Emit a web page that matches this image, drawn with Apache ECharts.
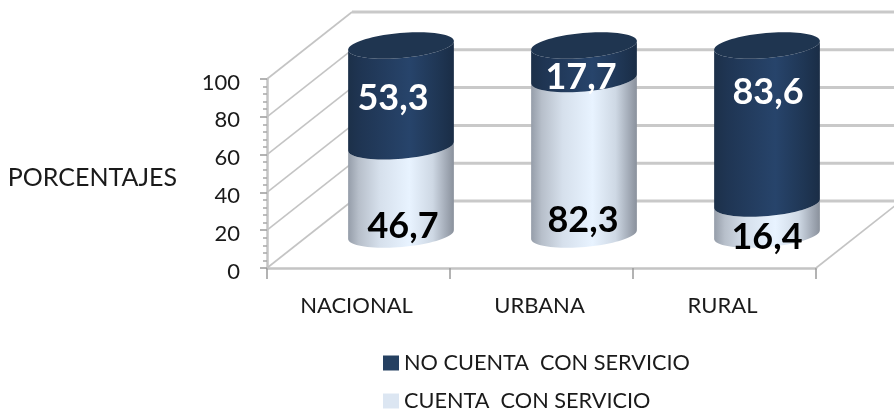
<!DOCTYPE html>
<html><head><meta charset="utf-8">
<style>html,body{margin:0;padding:0;background:#fff}#c{width:894px;height:412px}</style>
<script src="https://cdn.jsdelivr.net/npm/echarts@6/dist/echarts.min.js"></script>
</head><body><div id="c"></div>
<script>
const categories = ['NACIONAL', 'URBANA', 'RURAL'];
const cuenta = [46.7, 82.3, 16.4];
const noCuenta = [53.3, 17.7, 83.6];
const yTicks = [0, 20, 40, 60, 80, 100];
const nameCuenta = 'CUENTA  CON SERVICIO';
const nameNoCuenta = 'NO CUENTA  CON SERVICIO';

const FONT = 'Lato, Carlito, sans-serif';
const DX = 85, DY = 67;           // 3D depth of the walls
const RY = 12.5, TILT = 5 * Math.PI / 180;
const RATIO = 0.29;

// Hand placed label nudges of the source chart
const nudgeLight = [[2, 36], [-1, 64], [0, 18]];
const nudgeDark = [[-8, 3], [-3, 15], [1, -32]];

function arc(cx, cy, rx, from, to, n) {
  const pts = [];
  for (let i = 0; i <= n; i++) {
    const t = from + (to - from) * i / n;
    const a = rx * Math.cos(t), b = RY * Math.sin(t);
    pts.push([cx + a * Math.cos(TILT) + b * Math.sin(TILT), cy - a * Math.sin(TILT) + b * Math.cos(TILT)]);
  }
  return pts;
}

function cylinder(stops, capColor, textColor, nudges) {
  return function (params, api) {
    const i = api.value(0), lo = api.value(1), hi = api.value(2), label = api.value(3);
    const band = api.size([1, 0])[0];
    const rx = band * RATIO;
    const pLo = api.coord([i, lo]), pHi = api.coord([i, hi]);
    const cx = pLo[0] + DX / 2;
    const yLo = pLo[1] - DY / 2, yHi = pHi[1] - DY / 2;
    const front = arc(cx, yLo, rx, Math.PI, 0, 40).concat(arc(cx, yHi, rx, 0, Math.PI, 40));
    const children = [{
      type: 'polygon', shape: { points: front },
      style: { fill: { type: 'linear', x: 0, y: 0, x2: 1, y2: 0, colorStops: stops } }
    }];
    if (capColor) {
      children.push({
        type: 'polygon', shape: { points: arc(cx, yHi, rx, 0, 2 * Math.PI, 80) },
        style: { fill: capColor }
      });
    }
    children.push({
      type: 'text', z2: 100,
      style: {
        text: label.toFixed(1).replace('.', ','),
        x: cx + nudges[i][0], y: (yLo + yHi) / 2 + nudges[i][1],
        align: 'center', verticalAlign: 'middle',
        fontFamily: FONT, fontWeight: 'bold', fontSize: 36, fill: textColor
      }
    });
    return { type: 'group', children };
  };
}

function wall(params, api) {
  const v = api.value(0);
  const p = api.coord([0, v]);
  const band = api.size([1, 0])[0];
  const x0 = p[0] - band / 2, y = p[1];
  const lineStyle = { stroke: '#c4c4c4', lineWidth: 1.6 };
  const backY = y - DY, xBack = x0 + DX;
  const children = [
    { type: 'line', shape: { x1: x0, y1: y, x2: xBack, y2: backY }, style: lineStyle },
    { type: 'line', shape: { x1: xBack, y1: backY, x2: xBack + band * 3, y2: backY }, style: { stroke: '#c9c9c9', lineWidth: 3 } }
  ];
  if (v === 0) {
    children.push({ type: 'line', shape: { x1: x0 + band * 3, y1: y, x2: xBack + band * 3, y2: backY }, style: lineStyle });
  }
  return { type: 'group', children };
}

const darkStops = [
  { offset: 0, color: '#1c3049' }, { offset: 0.12, color: '#1f3553' },
  { offset: 0.58, color: '#27446b' }, { offset: 0.85, color: '#1f3654' }, { offset: 1, color: '#1a2d46' }
];
const lightStops = [
  { offset: 0, color: '#959da9' }, { offset: 0.1, color: '#b7bfca' }, { offset: 0.3, color: '#d6e0ec' },
  { offset: 0.58, color: '#e8f3ff' }, { offset: 0.8, color: '#ced8e4' }, { offset: 0.93, color: '#a1a9b5' }, { offset: 1, color: '#8a919c' }
];

const lightRows = categories.map((c, i) => [i, 0, cuenta[i], cuenta[i]]);
const darkRows = categories.map((c, i) => [i, cuenta[i], cuenta[i] + noCuenta[i], noCuenta[i]]);

const chart = echarts.init(document.getElementById('c'), null, { renderer: 'canvas' });
chart.setOption({
  animation: false,
  backgroundColor: '#fff',
  textStyle: { fontFamily: FONT },
  grid: { left: 267, right: 78, top: 79, height: 189, containLabel: false, outerBoundsMode: 'none' },
  xAxis: {
    type: 'category', data: categories,
    axisLine: { lineStyle: { color: '#c4c4c4', width: 2.5 } },
    axisTick: { show: true, length: 11, lineStyle: { color: '#9a9a9a', width: 1.5 } },
    axisLabel: { color: '#1a1a1a', fontSize: 22, fontFamily: FONT, margin: 27, padding: [0, 4, 0, 0] },
    splitLine: { show: false }
  },
  yAxis: {
    type: 'value', min: 0, max: 100, interval: 20,
    name: 'PORCENTAJES', nameLocation: 'middle', nameRotate: 0, nameGap: 90,
    nameTextStyle: { color: '#1a1a1a', fontSize: 25, fontFamily: FONT, verticalAlign: 'top', lineHeight: 8 },
    axisLine: { show: true, lineStyle: { color: '#c4c4c4', width: 2.5 } },
    axisTick: { show: true, length: 7, lineStyle: { color: '#9a9a9a', width: 1.5 } },
    minorTick: { show: true, splitNumber: 5, length: 4, lineStyle: { color: '#a8a8a8', width: 1.5 } },
    axisLabel: { color: '#1a1a1a', fontSize: 22, fontFamily: FONT, margin: 27, verticalAlign: 'top', lineHeight: 7 },
    splitLine: { show: false }, minorSplitLine: { show: false }
  },
  legend: {
    show: true, orient: 'vertical', left: 383, top: 352, height: 60, padding: 0, itemWidth: 16, itemHeight: 15, itemGap: 16,
    icon: 'rect',
    data: [nameNoCuenta, nameCuenta],
    textStyle: { color: '#1a1a1a', fontSize: 21.7, fontFamily: FONT }
  },
  series: [
    { type: 'custom', name: 'paredes', silent: true, z: 1, renderItem: wall, clip: false, data: yTicks.map(v => [v]), encode: { y: 0 } },
    { type: 'custom', name: nameCuenta, z: 3, itemStyle: { color: '#dce6f2' }, renderItem: cylinder(lightStops, null, '#000', nudgeLight),
      data: lightRows, encode: { x: 0, y: [1, 2] } },
    { type: 'custom', name: nameNoCuenta, z: 3, itemStyle: { color: '#254061' }, renderItem: cylinder(darkStops, '#1f3550', '#fff', nudgeDark),
      data: darkRows, encode: { x: 0, y: [1, 2] } }
  ]
});
</script></body></html>
